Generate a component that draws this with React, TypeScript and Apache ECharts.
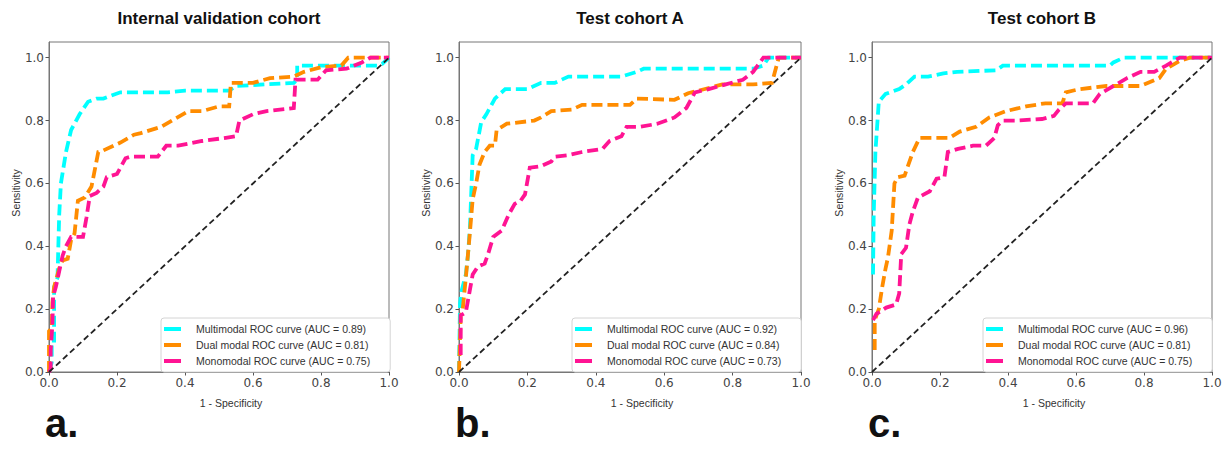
import React, { useEffect, useRef } from "react";
import * as echarts from "echarts";

type Pt = [number, number];

const TITLES = ["Internal validation cohort", "Test cohort A", "Test cohort B"];
const PANEL_LETTERS = ["a.", "b.", "c."];
const X_NAME = "1 - Specificity";
const Y_NAME = "Sensitivity";
const TICKS = [0, 0.2, 0.4, 0.6, 0.8, 1.0];
const CURVE_NAMES = ["Multimodal ROC curve", "Dual modal ROC curve", "Monomodal ROC curve"];
const AUC_A = [0.89, 0.81, 0.75];
const AUC_B = [0.92, 0.84, 0.73];
const AUC_C = [0.96, 0.81, 0.75];
const CHANCE: Pt[] = [[0, 0], [1, 1]];

// Panel a: Internal validation cohort
const A_MULTI: Pt[] = [[0,0],[0.008,0.03],[0.008,0.1],[0.015,0.1],[0.015,0.27],[0.025,0.3],[0.03,0.5],[0.035,0.6],[0.05,0.7],[0.065,0.77],[0.09,0.82],[0.115,0.86],[0.14,0.87],[0.16,0.87],[0.21,0.89],[0.35,0.89],[0.4,0.895],[0.53,0.895],[0.55,0.91],[0.72,0.92],[0.73,0.93],[0.73,0.975],[0.97,0.975],[0.98,0.98],[1,1]];
const A_DUAL: Pt[] = [[0,0],[0,0.13],[0.008,0.14],[0.01,0.22],[0.015,0.27],[0.03,0.33],[0.04,0.355],[0.055,0.36],[0.065,0.42],[0.075,0.44],[0.085,0.545],[0.105,0.555],[0.125,0.59],[0.145,0.7],[0.16,0.705],[0.21,0.73],[0.25,0.755],[0.27,0.76],[0.33,0.78],[0.41,0.83],[0.45,0.83],[0.5,0.845],[0.53,0.845],[0.535,0.92],[0.6,0.92],[0.65,0.935],[0.72,0.94],[0.75,0.955],[0.8,0.97],[0.86,0.975],[0.88,1.0],[1,1]];
const A_MONO: Pt[] = [[0,0],[0.005,0.01],[0.005,0.07],[0.01,0.15],[0.012,0.24],[0.02,0.27],[0.03,0.32],[0.04,0.37],[0.05,0.4],[0.065,0.43],[0.1,0.43],[0.11,0.49],[0.12,0.56],[0.14,0.57],[0.16,0.59],[0.17,0.62],[0.2,0.63],[0.225,0.68],[0.24,0.685],[0.32,0.685],[0.345,0.72],[0.38,0.72],[0.45,0.735],[0.52,0.745],[0.55,0.75],[0.56,0.8],[0.6,0.82],[0.64,0.83],[0.72,0.84],[0.725,0.93],[0.79,0.93],[0.815,0.96],[0.875,0.965],[0.92,0.985],[0.945,1.0],[1,1]];

// Panel b: Test cohort A
const B_MULTI: Pt[] = [[0,0],[0.003,0.22],[0.008,0.26],[0.02,0.31],[0.026,0.37],[0.032,0.46],[0.04,0.69],[0.05,0.71],[0.065,0.795],[0.08,0.82],[0.105,0.87],[0.135,0.9],[0.2,0.9],[0.24,0.92],[0.28,0.92],[0.32,0.94],[0.475,0.94],[0.52,0.955],[0.54,0.965],[0.86,0.965],[0.89,0.975],[0.905,1.0],[1,1]];
const B_DUAL: Pt[] = [[0,0],[0.005,0.18],[0.01,0.19],[0.02,0.3],[0.03,0.42],[0.04,0.55],[0.05,0.6],[0.06,0.66],[0.075,0.7],[0.09,0.72],[0.105,0.72],[0.11,0.77],[0.125,0.78],[0.14,0.79],[0.22,0.8],[0.24,0.81],[0.27,0.83],[0.33,0.835],[0.36,0.85],[0.5,0.85],[0.52,0.87],[0.63,0.866],[0.67,0.887],[0.7,0.895],[0.77,0.915],[0.86,0.915],[0.915,0.92],[0.935,1.0],[1,1]];
const B_MONO: Pt[] = [[0,0.06],[0.005,0.06],[0.005,0.18],[0.02,0.19],[0.03,0.25],[0.04,0.31],[0.055,0.335],[0.075,0.345],[0.085,0.375],[0.1,0.43],[0.125,0.45],[0.145,0.5],[0.163,0.535],[0.18,0.545],[0.193,0.565],[0.207,0.65],[0.24,0.655],[0.27,0.67],[0.28,0.685],[0.32,0.69],[0.36,0.7],[0.42,0.71],[0.44,0.735],[0.475,0.75],[0.49,0.78],[0.53,0.78],[0.58,0.79],[0.63,0.81],[0.665,0.84],[0.69,0.89],[0.73,0.9],[0.78,0.915],[0.83,0.93],[0.86,0.955],[0.89,1.0],[1,1]];

// Panel c: Test cohort B
const C_MULTI: Pt[] = [[0.003,0.31],[0.005,0.5],[0.01,0.7],[0.015,0.78],[0.02,0.86],[0.04,0.885],[0.08,0.9],[0.1,0.915],[0.125,0.94],[0.165,0.94],[0.21,0.95],[0.25,0.955],[0.365,0.96],[0.385,0.975],[0.7,0.975],[0.71,0.985],[0.74,1.0],[1,1]];
const C_DUAL: Pt[] = [[0.008,0.07],[0.008,0.165],[0.02,0.2],[0.03,0.27],[0.04,0.33],[0.047,0.365],[0.058,0.45],[0.066,0.6],[0.076,0.62],[0.096,0.625],[0.12,0.7],[0.14,0.745],[0.228,0.745],[0.258,0.765],[0.306,0.78],[0.345,0.81],[0.394,0.83],[0.453,0.845],[0.51,0.855],[0.56,0.855],[0.57,0.89],[0.61,0.9],[0.69,0.91],[0.79,0.91],[0.845,0.935],[0.865,0.965],[0.905,0.99],[0.935,1.0],[1,1]];
const C_MONO: Pt[] = [[0.003,0.165],[0.013,0.185],[0.042,0.205],[0.071,0.215],[0.08,0.25],[0.086,0.375],[0.1,0.395],[0.11,0.47],[0.12,0.51],[0.135,0.555],[0.17,0.575],[0.19,0.615],[0.213,0.62],[0.223,0.7],[0.253,0.71],[0.297,0.72],[0.335,0.72],[0.36,0.745],[0.37,0.785],[0.385,0.8],[0.424,0.8],[0.5,0.805],[0.535,0.815],[0.55,0.835],[0.57,0.855],[0.65,0.855],[0.67,0.885],[0.71,0.91],[0.75,0.935],[0.79,0.955],[0.83,0.955],[0.865,0.975],[0.905,1.0],[1,1]];

const PANELS = [
  { data: [A_MULTI, A_DUAL, A_MONO], auc: AUC_A },
  { data: [B_MULTI, B_DUAL, B_MONO], auc: AUC_B },
  { data: [C_MULTI, C_DUAL, C_MONO], auc: AUC_C },
];

const COLORS = ["#00FFFF", "#FF8C00", "#FF1493"];
const GRIDS = [
  { left: 49, top: 42, width: 340, height: 330 },
  { left: 459, top: 42, width: 342, height: 330 },
  { left: 872, top: 42, width: 340, height: 330 },
];
const LEGEND_POS = [161, 572, 983];
const LABEL_FONT = "'Liberation Sans', Arial, sans-serif";
const TICK_FONT = "'DejaVu Sans', sans-serif";

export default function App() {
  const ref = useRef<HTMLDivElement>(null);
  useEffect(() => {
    document.body.style.margin = "0";
    const chart = echarts.init(ref.current!, undefined, { renderer: "svg" });
    const xAxis: any[] = [];
    const yAxis: any[] = [];
    const series: any[] = [];
    const legend: any[] = [];
    const graphic: any[] = [];
    const fmt = (v: number) => (Math.abs(v * 5 - Math.round(v * 5)) < 1e-6 ? v.toFixed(1) : "");
    PANELS.forEach((p, i) => {
      const g = GRIDS[i];
      xAxis.push({
        type: "value", gridIndex: i, min: 0, max: 1, interval: 0.2,
        splitLine: { show: false },
        axisLine: { show: true, lineStyle: { color: "#777", width: 1 } },
        axisTick: { show: true, length: 3.5, lineStyle: { color: "#555" } },
        axisLabel: { fontSize: 12, color: "#444", fontFamily: TICK_FONT, margin: 5, formatter: fmt },
      });
      yAxis.push({
        type: "value", gridIndex: i, min: 0, max: 1.05, interval: 0.2,
        splitLine: { show: false },
        axisLine: { show: true, lineStyle: { color: "#777", width: 1 } },
        axisTick: { show: true, length: 3.5, lineStyle: { color: "#555" }, customValues: TICKS },
        axisLabel: { fontSize: 12, color: "#444", fontFamily: TICK_FONT, margin: 5, formatter: fmt, customValues: TICKS },
      });
      const names: string[] = [];
      p.data.forEach((d, k) => {
        const name = `${CURVE_NAMES[k]} (AUC = ${p.auc[k].toFixed(2)})`;
        names.push(name);
        series.push({
          type: "line", name, xAxisIndex: i, yAxisIndex: i, data: d,
          showSymbol: false, symbol: "none", color: COLORS[k],
          lineStyle: { color: COLORS[k], width: 3.8, type: [11, 5], cap: "butt", join: "miter" },
          emphasis: { disabled: true }, silent: true,
        });
      });
      series.push({
        type: "line", name: "chance" + i, xAxisIndex: i, yAxisIndex: i, data: CHANCE,
        showSymbol: false, symbol: "none", color: "#222",
        lineStyle: { color: "#222", width: 1.8, type: [6, 3.5] }, silent: true,
      });
      legend.push({
        orient: "vertical", left: LEGEND_POS[i], top: 318, data: names,
        icon: "rect", itemWidth: 17, itemHeight: 4, itemGap: 4,
        padding: [5, 20, 5, 3], backgroundColor: "#fff", borderColor: "#d4d4d4",
        borderWidth: 1, borderRadius: 3, selectedMode: false,
        textStyle: { fontSize: 10.5, color: "#333", fontFamily: LABEL_FONT, lineHeight: 12, padding: [0, 0, 0, 10] },
      });
      const cx = g.left + g.width / 2;
      graphic.push({
        type: "text", x: cx, y: 18,
        style: { text: TITLES[i], fontSize: 17, fontWeight: "bold", fill: "#111", fontFamily: LABEL_FONT, textAlign: "center", textVerticalAlign: "middle" },
      });
      graphic.push({
        type: "text", x: cx + 12, y: 403,
        style: { text: X_NAME, fontSize: 10.5, fill: "#333", fontFamily: LABEL_FONT, textAlign: "center", textVerticalAlign: "middle" },
      });
      graphic.push({
        type: "text", x: g.left - 33, y: 193, rotation: Math.PI / 2,
        style: { text: Y_NAME, fontSize: 10.5, fill: "#333", fontFamily: LABEL_FONT, textAlign: "center", textVerticalAlign: "middle" },
      });
      graphic.push({
        type: "text", x: g.left - 4, y: 443,
        style: { text: PANEL_LETTERS[i], fontSize: 40, fontWeight: "bold", fill: "#111", fontFamily: LABEL_FONT, textAlign: "left", textVerticalAlign: "bottom" },
      });
    });
    chart.setOption({
      animation: false,
      backgroundColor: "#fff",
      grid: GRIDS.map((g) => ({ ...g, show: true, borderColor: "#777", borderWidth: 1, backgroundColor: "transparent" })),
      xAxis, yAxis, series, legend, graphic,
    });
    return () => chart.dispose();
  }, []);
  return <div ref={ref} style={{ width: 1226, height: 451 }} />;
}
